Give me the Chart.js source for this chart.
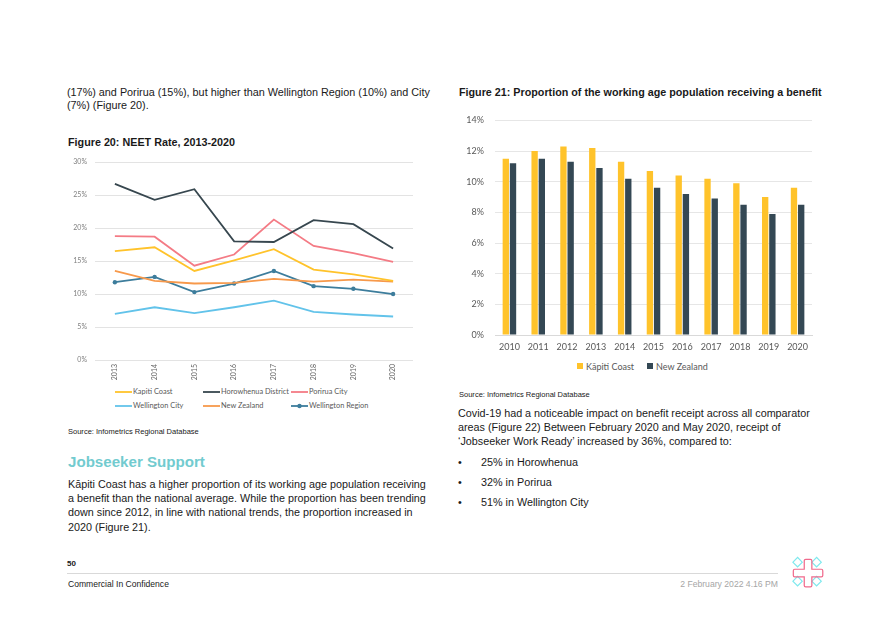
<!DOCTYPE html>
<html>
<head>
<meta charset="utf-8">
<script src="https://cdn.jsdelivr.net/npm/chart.js@4.4.0/dist/chart.umd.min.js"></script>
<style>
  html,body{margin:0;padding:0;background:#fff;}
  body{width:893px;height:626px;position:relative;overflow:hidden;font-family:"Liberation Sans",Arial,sans-serif;color:#1a1a1a;}
  .t{position:absolute;white-space:nowrap;line-height:14px;height:14px;}
  .lg{position:absolute;white-space:nowrap;font-family:Lato,"Open Sans",sans-serif;color:#595959;}
  canvas{position:absolute;}
</style>
</head>
<body>
<script>
// ---------------- DATA ----------------
const neetYears = ['2013','2014','2015','2016','2017','2018','2019','2020'];
const kapitiNeet      = [16.5, 17.1, 13.5, 15.1, 16.8, 13.7, 13.0, 12.0];
const horowhenuaNeet  = [26.7, 24.3, 25.9, 18.0, 17.9, 21.2, 20.6, 16.9];
const poriruaNeet     = [18.8, 18.7, 14.3, 16.0, 21.3, 17.3, 16.2, 14.9];
const wellCityNeet    = [7.0, 8.0, 7.1, 8.0, 9.0, 7.3, 6.9, 6.6];
const nzNeet          = [13.5, 12.0, 11.6, 11.7, 12.3, 11.9, 12.2, 11.9];
const wellRegionNeet  = [11.8, 12.6, 10.3, 11.6, 13.5, 11.2, 10.8, 10.0];

const benefitYears = ['2010','2011','2012','2013','2014','2015','2016','2017','2018','2019','2020'];
const kapitiBenefit = [11.5, 12.0, 12.3, 12.2, 11.3, 10.7, 10.4, 10.2, 9.9, 9.0, 9.6];
const nzBenefit     = [11.2, 11.5, 11.3, 10.9, 10.2, 9.6, 9.2, 8.9, 8.5, 7.9, 8.5];

const neetTicks = [0,5,10,15,20,25,30];
const benefitTicks = [0,2,4,6,8,10,12,14];
</script>

<!-- text -->
<div class="t fitgrp" data-grp="a" data-w="363" style="left:67px;top:85px">(17%) and Porirua (15%), but higher than Wellington Region (10%) and City</div>
<div class="t" data-grp="a" style="left:67px;top:98px">(7%) (Figure 20).</div>

<div class="t fitgrp" data-grp="f20" data-w="167" style="left:68px;top:135px;font-weight:bold">Figure 20: NEET Rate, 2013-2020</div>
<div class="t fitgrp" data-grp="f21" data-w="363" style="left:459px;top:85px;font-weight:bold">Figure 21: Proportion of the working age population receiving a benefit</div>

<div class="t fitgrp" data-grp="s1" data-w="131" style="left:68px;top:425px">Source: Infometrics Regional Database</div>
<div class="t fitgrp" data-grp="s2" data-w="131" style="left:459px;top:388px">Source: Infometrics Regional Database</div>

<div class="t fitgrp" data-grp="h" data-w="137" style="left:68px;top:452px;height:20px;line-height:20px;font-weight:bold;color:#72CBCF">Jobseeker Support</div>

<div class="t fitgrp" data-grp="b" data-w="358" style="left:68px;top:477px">Kāpiti Coast has a higher proportion of its working age population receiving</div>
<div class="t" data-grp="b" style="left:68px;top:491px">a benefit than the national average. While the proportion has been trending</div>
<div class="t" data-grp="b" style="left:68px;top:505px">down since 2012, in line with national trends, the proportion increased in</div>
<div class="t" data-grp="b" style="left:68px;top:520px">2020 (Figure 21).</div>

<div class="t fitgrp" data-grp="c" data-w="352" style="left:458px;top:406px">Covid-19 had a noticeable impact on benefit receipt across all comparator</div>
<div class="t" data-grp="c" style="left:458px;top:420px">areas (Figure 22) Between February 2020 and May 2020, receipt of</div>
<div class="t" data-grp="c" style="left:458px;top:434px">‘Jobseeker Work Ready’ increased by 36%, compared to:</div>
<div class="t" data-grp="c" style="left:458px;top:455px">•</div>
<div class="t" data-grp="c" style="left:481px;top:455px">25% in Horowhenua</div>
<div class="t" data-grp="c" style="left:458px;top:475px">•</div>
<div class="t" data-grp="c" style="left:481px;top:475px">32% in Porirua</div>
<div class="t" data-grp="c" style="left:458px;top:495px">•</div>
<div class="t" data-grp="c" style="left:481px;top:495px">51% in Wellington City</div>

<div class="t" style="left:67px;top:557px;font-size:8px;font-weight:bold">50</div>
<div style="position:absolute;left:67px;top:573px;width:711px;height:1px;background:#D9D9D9"></div>
<div class="t fitgrp" data-grp="cc" data-w="101" style="left:68px;top:577px">Commercial In Confidence</div>
<div class="t fitgrp" data-grp="d" data-w="98" data-right="778" style="left:681px;top:577px;color:#A6A6A6">2 February 2022 4.16 PM</div>

<svg style="position:absolute;left:790px;top:555px" width="38" height="38" viewBox="0 0 40 40">
  <g fill="none" stroke="#7FE9EE" stroke-width="1.2">
    <rect x="4.5" y="4" width="7" height="7" transform="rotate(45 8 7.5)"/>
    <rect x="24.5" y="4" width="7" height="7" transform="rotate(45 28 7.5)"/>
    <rect x="4.5" y="24" width="7" height="7" transform="rotate(45 8 27.5)"/>
    <rect x="24.5" y="24" width="7" height="7" transform="rotate(45 28 27.5)"/>
  </g>
  <path d="M16.5 4.5 h5 a1.5 1.5 0 0 1 1.5 1.5 v9 h10 a1.5 1.5 0 0 1 1.5 1.5 v5 a1.5 1.5 0 0 1 -1.5 1.5 h-10 v9 a1.5 1.5 0 0 1 -1.5 1.5 h-5 a1.5 1.5 0 0 1 -1.5 -1.5 v-9 h-10 a1.5 1.5 0 0 1 -1.5 -1.5 v-5 a1.5 1.5 0 0 1 1.5 -1.5 h10 v-9 a1.5 1.5 0 0 1 1.5 -1.5 z" fill="none" stroke="#F06A8C" stroke-width="1.3"/>
</svg>

<canvas id="c1" width="360" height="235" style="left:60px;top:150px"></canvas>
<canvas id="c2" width="380" height="256" style="left:450px;top:104px"></canvas>
<div id="leg1"></div>
<div id="leg2"></div>

<script>
// fit font sizes so text widths match the page
(function(){
  const groups = {};
  document.querySelectorAll('.t[data-grp]').forEach(el=>{
    const g = el.dataset.grp; (groups[g] = groups[g] || []).push(el);
  });
  Object.keys(groups).forEach(g=>{
    const ref = groups[g].find(e=>e.dataset.w);
    if(!ref) return;
    ref.style.fontSize = '11px';
    const w = ref.getBoundingClientRect().width;
    const fs = 11 * (+ref.dataset.w) / w;
    groups[g].forEach(e=>{ e.style.fontSize = fs.toFixed(2)+'px'; });
    if(ref.dataset.right){
      const w2 = ref.getBoundingClientRect().width;
      ref.style.left = (+ref.dataset.right - w2) + 'px';
    }
  });
})();

Chart.defaults.font.family = 'Lato, "Open Sans", sans-serif';
Chart.defaults.color = '#595959';

const C = {
  kapiti:'#FFC32B', horo:'#37474F', porirua:'#F47B85',
  wcity:'#62C3EA', nz:'#F7994B', wreg:'#3D7D9C', nzBar:'#344854'
};

// ---------- Figure 20 ----------
const lineSeries = [
  {label:'Kapiti Coast', data:kapitiNeet, color:C.kapiti},
  {label:'Horowhenua District', data:horowhenuaNeet, color:C.horo},
  {label:'Porirua City', data:poriruaNeet, color:C.porirua},
  {label:'Wellington City', data:wellCityNeet, color:C.wcity},
  {label:'New Zealand', data:nzNeet, color:C.nz},
  {label:'Wellington Region', data:wellRegionNeet, color:C.wreg, marker:true}
];
new Chart(document.getElementById('c1'), {
  type:'line',
  data:{
    labels:neetYears,
    datasets:lineSeries.map(s=>({
      label:s.label, data:s.data, borderColor:s.color, backgroundColor:s.color,
      borderWidth:1.8, tension:0, pointRadius:s.marker?2.2:0, pointHoverRadius:0,
      pointBackgroundColor:s.color, pointBorderWidth:0
    }))
  },
  options:{
    responsive:false, devicePixelRatio:1, animation:false,
    layout:{padding:{top:12,right:7,left:0,bottom:0}},
    plugins:{legend:{display:false}, tooltip:{enabled:false}},
    scales:{
      x:{
        offset:true,
        grid:{display:false, drawTicks:false},
        border:{display:false},
        ticks:{minRotation:90,maxRotation:90,font:{size:7},color:'#666',padding:4},
        afterFit:s=>{s.height=25;}
      },
      y:{
        min:0,max:30,
        afterBuildTicks:s=>{s.ticks = neetTicks.map(v=>({value:v}));},
        grid:{color:'#E3E3E3', drawTicks:false, lineWidth:1},
        border:{display:false},
        ticks:{callback:v=>v+'%', font:{size:7}, color:'#808080', padding:8},
        afterFit:s=>{s.width=35;}
      }
    }
  }
});

// legend for figure 20 (html)
(function(){
  const leg = document.getElementById('leg1');
  const cols=[115,203,291], rows=[392.3,405.7];
  lineSeries.forEach((s,i)=>{
    const x=cols[i%3], y=rows[Math.floor(i/3)];
    const d=document.createElement('div');
    d.className='lg';
    d.style.left=x+'px'; d.style.top=(y-6)+'px'; d.style.height='12px'; d.style.lineHeight='12px';
    d.style.fontSize='7.4px';
    d.innerHTML='<svg width="18" height="12" style="vertical-align:top"><line x1="0" y1="6" x2="17" y2="6" stroke="'+s.color+'" stroke-width="1.8"/>'+
      (s.marker?'<circle cx="8.5" cy="6" r="2.2" fill="'+s.color+'"/>':'')+'</svg><span style="vertical-align:top">'+s.label+'</span>';
    leg.appendChild(d);
  });
})();

// ---------- Figure 21 ----------
new Chart(document.getElementById('c2'), {
  type:'bar',
  data:{
    labels:benefitYears,
    datasets:[
      {label:'Kāpiti Coast', data:kapitiBenefit, backgroundColor:C.kapiti, categoryPercentage:0.5, barPercentage:0.88},
      {label:'New Zealand', data:nzBenefit, backgroundColor:C.nzBar, categoryPercentage:0.5, barPercentage:0.88}
    ]
  },
  options:{
    responsive:false, devicePixelRatio:1, animation:false,
    layout:{padding:{top:4,right:18,left:0,bottom:0}},
    plugins:{legend:{display:false}, tooltip:{enabled:false}},
    scales:{
      x:{
        grid:{display:false, drawTicks:false},
        border:{display:true,color:'#D9D9D9'},
        ticks:{font:{size:9},color:'#595959',padding:7},
        afterFit:s=>{s.height=25;}
      },
      y:{
        min:0,max:14,
        afterBuildTicks:s=>{s.ticks = benefitTicks.map(v=>({value:v}));},
        grid:{color:'#E6E6E6', drawTicks:false},
        border:{display:false},
        ticks:{callback:v=>v+'%', font:{size:9}, color:'#595959', padding:11},
        afterFit:s=>{s.width=45;}
      }
    }
  }
});

(function(){
  const leg = document.getElementById('leg2');
  const items=[{x:577,label:'Kāpiti Coast',c:C.kapiti},{x:647,label:'New Zealand',c:C.nzBar}];
  items.forEach(it=>{
    const d=document.createElement('div');
    d.className='lg';
    d.style.left=it.x+'px'; d.style.top='361px'; d.style.height='12px'; d.style.lineHeight='12px';
    d.style.fontSize='9px';
    d.innerHTML='<span style="display:inline-block;width:6px;height:6px;background:'+it.c+';margin-right:3px;vertical-align:1px"></span>'+it.label;
    leg.appendChild(d);
  });
})();
</script>
</body>
</html>
